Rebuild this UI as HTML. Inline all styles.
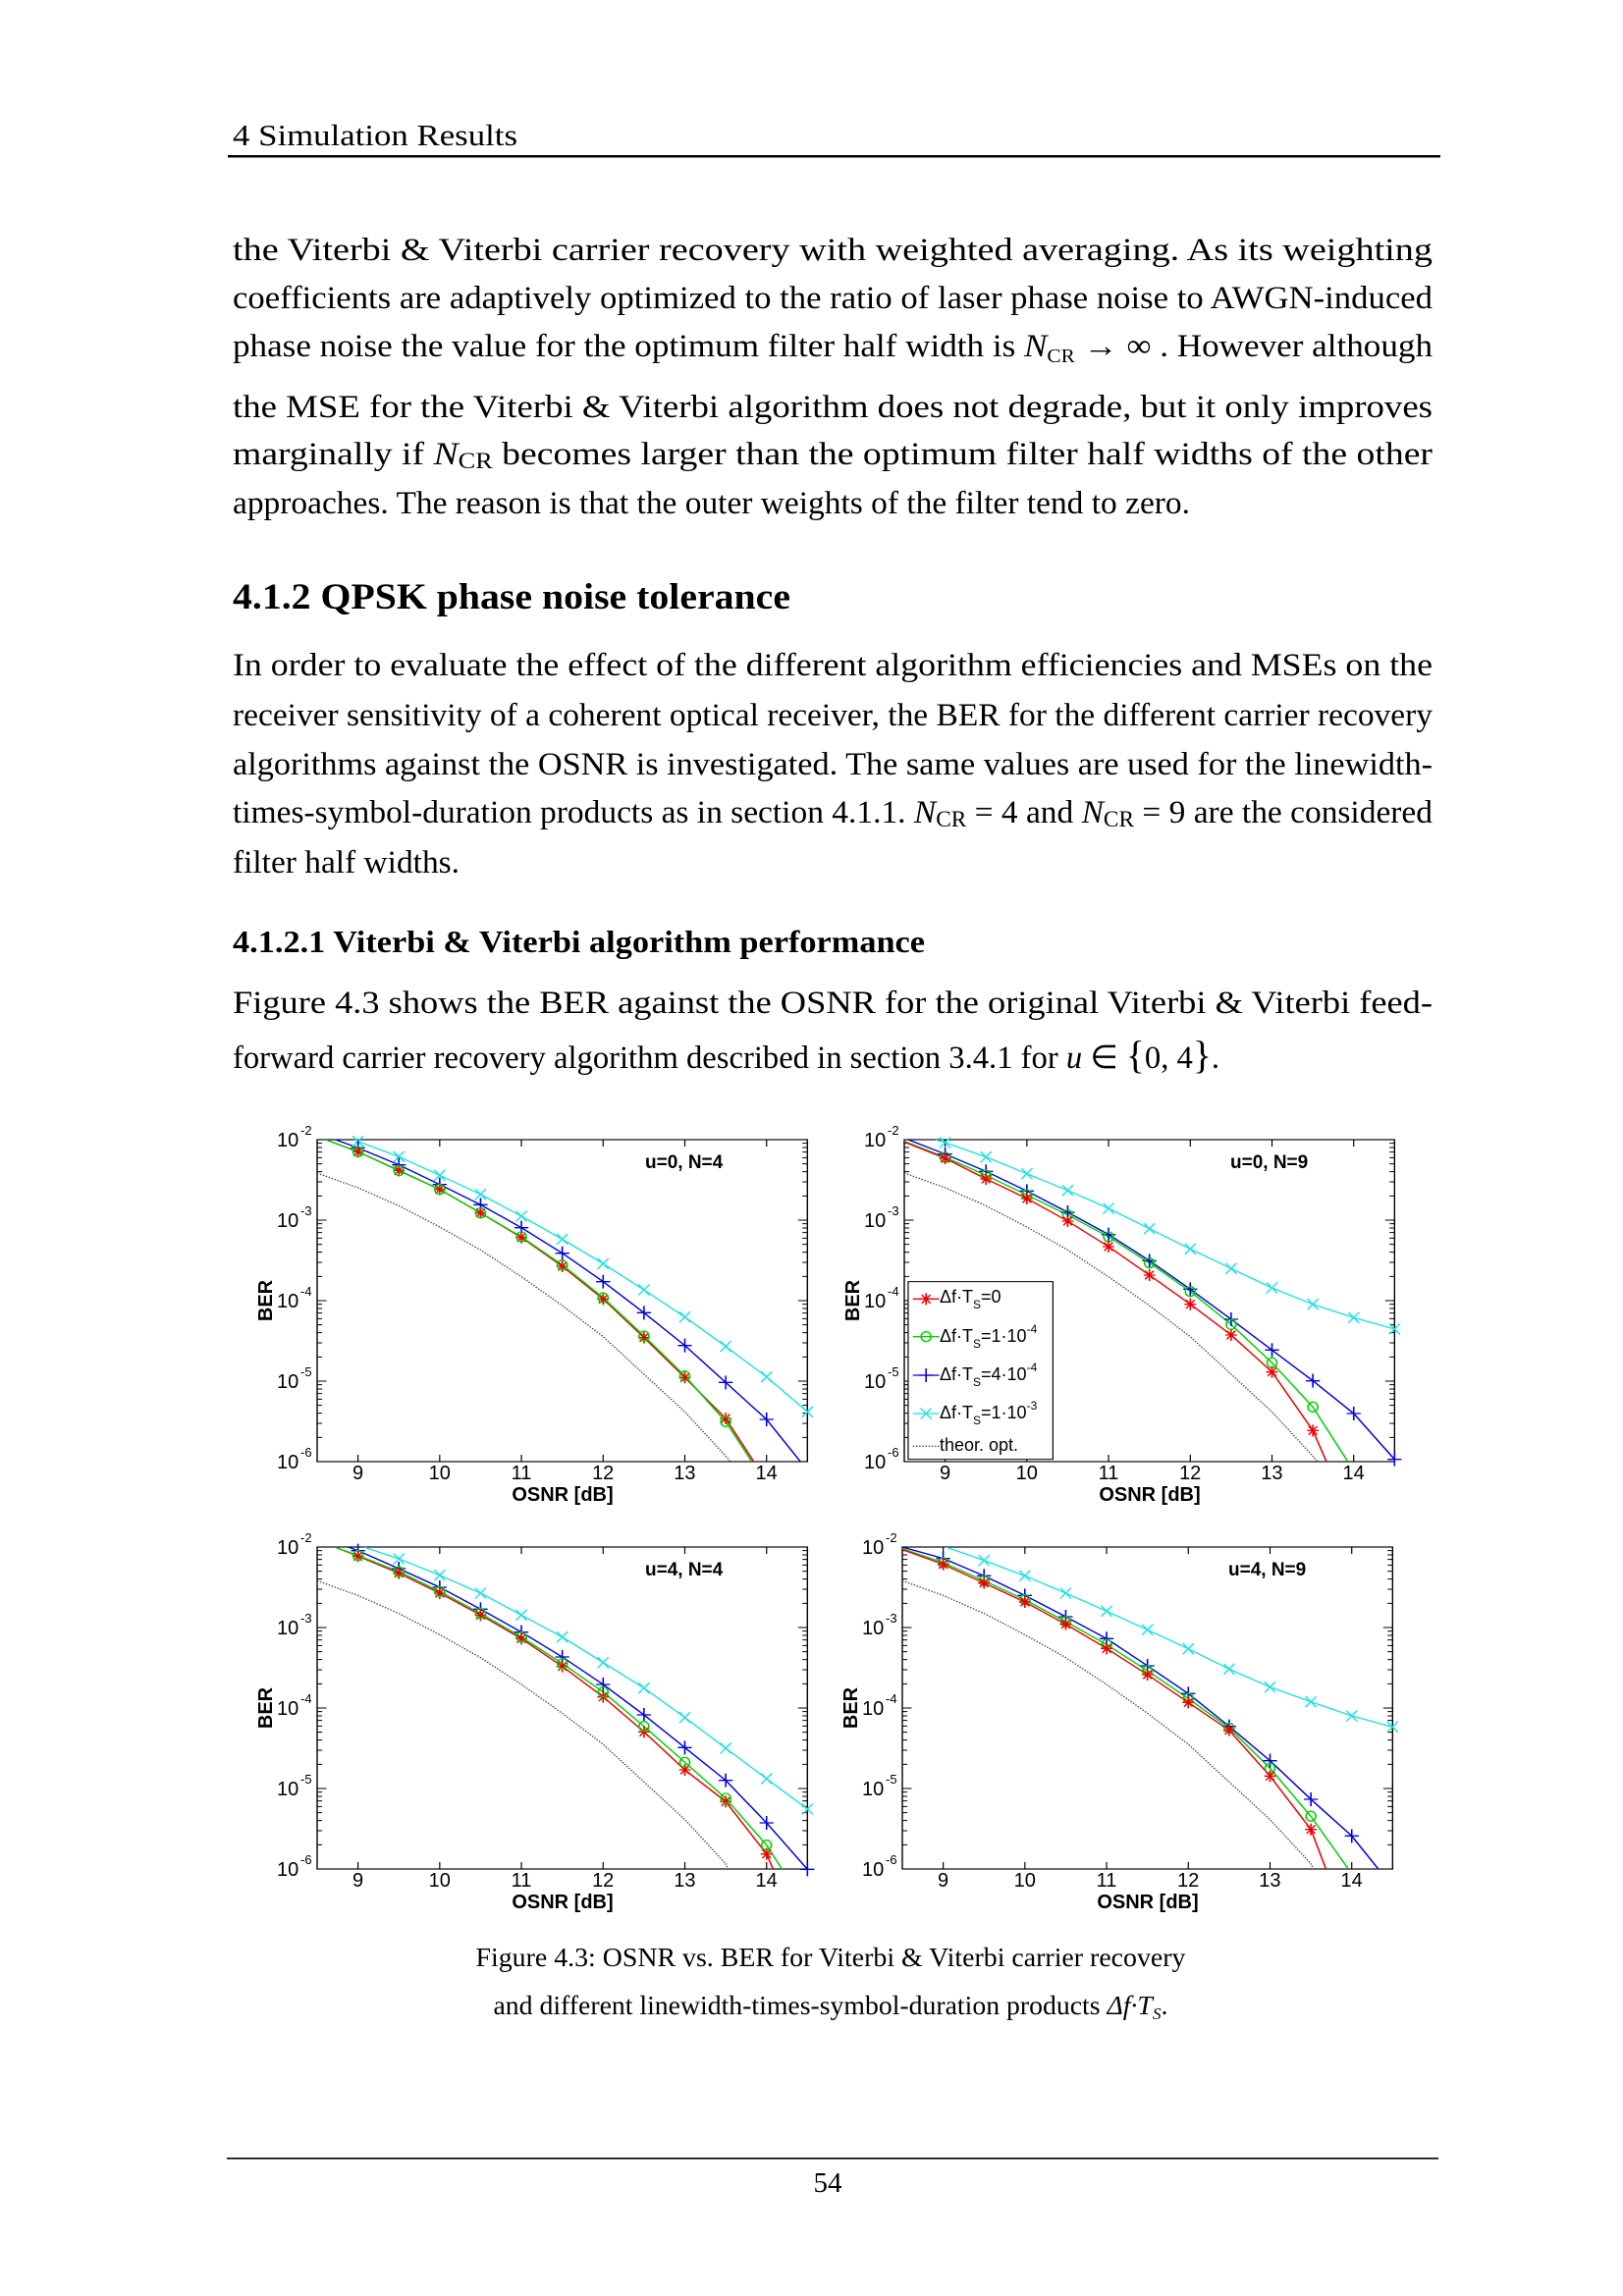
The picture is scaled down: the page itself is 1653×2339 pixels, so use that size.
<!DOCTYPE html>
<html><head><meta charset="utf-8"><style>
html,body{margin:0;padding:0;background:#fff}
svg{display:block}
.t{font-family:"Liberation Serif",serif;fill:#000}
.a{font-family:"Liberation Sans",sans-serif;fill:#000}
</style></head><body>
<svg width="1653" height="2339" viewBox="0 0 1653 2339" xmlns="http://www.w3.org/2000/svg">
<defs>
<marker id="ms" markerUnits="userSpaceOnUse" overflow="visible" markerWidth="1" markerHeight="1"><path d="M-15 0H15M0-18V18M-11-13L11 13M-11 13L11-13" stroke="#ee0000" stroke-width="4" fill="none"/></marker>
<marker id="mo" markerUnits="userSpaceOnUse" overflow="visible" markerWidth="1" markerHeight="1"><ellipse cx="0" cy="0" rx="12.6" ry="15" stroke="#00d000" stroke-width="4" fill="none"/></marker>
<marker id="mp" markerUnits="userSpaceOnUse" overflow="visible" markerWidth="1" markerHeight="1"><path d="M-18 0H18M0-21V21" stroke="#0000dd" stroke-width="4" fill="none"/></marker>
<marker id="mx" markerUnits="userSpaceOnUse" overflow="visible" markerWidth="1" markerHeight="1"><path d="M-14-16.5L14 16.5M-14 16.5L14-16.5" stroke="#20e0e0" stroke-width="4" fill="none"/></marker>
<clipPath id="cb" clipPathUnits="userSpaceOnUse"><rect x="0" y="0" width="1260" height="984"/></clipPath>
<g id="frame">
<rect x="0" y="0" width="1260" height="984" fill="none" stroke="#000" stroke-width="3.5"/>
<path fill="none" stroke="#000" stroke-width="3" d="M105 984v-21M315 984v-21M525 984v-21M735 984v-21M945 984v-21M1155 984v-21M105 0v21M315 0v21M525 0v21M735 0v21M945 0v21M1155 0v21
M0 246h24M0 492h24M0 738h24M1260 246h-24M1260 492h-24M1260 738h-24
M0 172h13M0 129h13M0 98h13M0 74h13M0 55h13M0 38h13M0 24h13M0 11h13
M0 418h13M0 375h13M0 344h13M0 320h13M0 301h13M0 284h13M0 270h13M0 257h13
M0 664h13M0 621h13M0 590h13M0 566h13M0 547h13M0 530h13M0 516h13M0 503h13
M0 910h13M0 867h13M0 836h13M0 812h13M0 793h13M0 776h13M0 762h13M0 749h13
M1260 172h-13M1260 129h-13M1260 98h-13M1260 74h-13M1260 55h-13M1260 38h-13M1260 24h-13M1260 11h-13
M1260 418h-13M1260 375h-13M1260 344h-13M1260 320h-13M1260 301h-13M1260 284h-13M1260 270h-13M1260 257h-13
M1260 664h-13M1260 621h-13M1260 590h-13M1260 566h-13M1260 547h-13M1260 530h-13M1260 516h-13M1260 503h-13
M1260 910h-13M1260 867h-13M1260 836h-13M1260 812h-13M1260 793h-13M1260 776h-13M1260 762h-13M1260 749h-13"/>
</g>
</defs>

<text class="t" x="237" y="148" font-size="31" textLength="290" lengthAdjust="spacingAndGlyphs">4  Simulation Results</text>
<rect x="232" y="158" width="1235" height="2.5" fill="#000"/>

<g class="t" font-size="33">
<text x="237" y="265" textLength="1222" lengthAdjust="spacingAndGlyphs">the Viterbi &amp; Viterbi carrier recovery with weighted averaging. As its weighting</text>
<text x="237" y="314" textLength="1222" lengthAdjust="spacingAndGlyphs">coefficients are adaptively optimized to the ratio of laser phase noise to AWGN-induced</text>
<text x="237" y="363" textLength="1222" lengthAdjust="spacingAndGlyphs">phase noise the value for the optimum filter half width is <tspan font-style="italic">N</tspan><tspan font-size="20" dy="6">CR</tspan><tspan dy="-6"> → ∞ . However although</tspan></text>
<text x="237" y="425" textLength="1222" lengthAdjust="spacingAndGlyphs">the MSE for the Viterbi &amp; Viterbi algorithm does not degrade, but it only improves</text>
<text x="237" y="473" textLength="1222" lengthAdjust="spacingAndGlyphs">marginally if <tspan font-style="italic">N</tspan><tspan font-size="23" dy="4">CR</tspan><tspan dy="-4"> becomes larger than the optimum filter half widths of the other</tspan></text>
<text x="237" y="523" textLength="975" lengthAdjust="spacingAndGlyphs">approaches. The reason is that the outer weights of the filter tend to zero.</text>
</g>

<text class="t" x="237" y="620" font-size="37" font-weight="bold" textLength="568" lengthAdjust="spacingAndGlyphs">4.1.2  QPSK phase noise tolerance</text>

<g class="t" font-size="33">
<text x="237" y="688" textLength="1222" lengthAdjust="spacingAndGlyphs">In order to evaluate the effect of the different algorithm efficiencies and MSEs on the</text>
<text x="237" y="739" textLength="1222" lengthAdjust="spacingAndGlyphs">receiver sensitivity of a coherent optical receiver, the BER for the different carrier recovery</text>
<text x="237" y="789" textLength="1222" lengthAdjust="spacingAndGlyphs">algorithms against the OSNR is investigated. The same values are used for the linewidth-</text>
<text x="237" y="838" textLength="1222" lengthAdjust="spacingAndGlyphs">times-symbol-duration products as in section 4.1.1. <tspan font-style="italic">N</tspan><tspan font-size="23" dy="4">CR</tspan><tspan dy="-4"> = 4 and </tspan><tspan font-style="italic">N</tspan><tspan font-size="23" dy="4">CR</tspan><tspan dy="-4"> = 9 are the considered</tspan></text>
<text x="237" y="889" textLength="231" lengthAdjust="spacingAndGlyphs">filter half widths.</text>
</g>

<text class="t" x="237" y="970" font-size="32" font-weight="bold" textLength="705" lengthAdjust="spacingAndGlyphs">4.1.2.1  Viterbi &amp; Viterbi algorithm performance</text>

<g class="t" font-size="33">
<text x="237" y="1032" textLength="1222" lengthAdjust="spacingAndGlyphs">Figure 4.3 shows the BER against the OSNR for the original Viterbi &amp; Viterbi feed-</text>
<text x="237" y="1088" textLength="1005" lengthAdjust="spacingAndGlyphs">forward carrier recovery algorithm described in section 3.4.1 for <tspan font-style="italic">u</tspan> ∈ <tspan font-size="40">{</tspan>0, 4<tspan font-size="40">}</tspan>.</text>
</g>

<!-- ============ PLOT 1 ============ -->
<g transform="translate(323,1161)">
<g class="a" font-size="20">
<text x="-41" y="7">10</text><text x="-41" y="89">10</text><text x="-41" y="171">10</text><text x="-41" y="253">10</text><text x="-41" y="335">10</text>
<g font-size="13"><text x="-17" y="-5">-2</text><text x="-17" y="77">-3</text><text x="-17" y="159">-4</text><text x="-17" y="241">-5</text><text x="-17" y="323">-6</text></g>
<g text-anchor="middle"><text x="41.6" y="346">9</text><text x="124.8" y="346">10</text><text x="208" y="346">11</text><text x="291.2" y="346">12</text><text x="374.4" y="346">13</text><text x="457.6" y="346">14</text></g>
<text x="250" y="368" text-anchor="middle" font-weight="bold">OSNR [dB]</text>
<text transform="translate(-46,164) rotate(-90)" text-anchor="middle" font-weight="bold">BER</text>
<text x="334" y="29" font-weight="bold" font-size="19">u=0, N=4</text>
</g>
<g transform="scale(0.3963,0.33333)">
<use href="#frame"/>
<g fill="none" stroke-width="4" clip-path="url(#cb)">
<polyline stroke="#555" stroke-dasharray="4 4" points="0,102 105,147 210,202 315,267 420,337 525,419 630,507 735,602 840,717 945,832 1050,967 1062,984"/>
<polyline stroke="#20e0e0" points="95,0 105,5 210,52 315,109 420,167 525,234 630,304 735,379 840,459 945,542 1050,632 1155,725 1260,832"/>
<polyline stroke="#0000dd" points="47,0 105,25 210,77 315,137 420,199 525,269 630,347 735,434 840,529 945,629 1050,742 1155,855 1242,984"/>
<polyline stroke="#ee0000" points="22,0 105,37 210,94 315,152 420,224 525,299 630,387 735,487 840,605 945,727 1050,852 1122,984"/>
<polyline stroke="#00d000" points="22,0 105,37 210,95 315,152 420,224 525,297 630,383 735,483 840,600 945,722 1050,862 1117,984"/>
</g>
<g fill="none" stroke="none">
<polyline marker-start="url(#mx)" marker-mid="url(#mx)" marker-end="url(#mx)" points="105,5 210,52 315,109 420,167 525,234 630,304 735,379 840,459 945,542 1050,632 1155,725 1260,832"/>
<polyline marker-start="url(#mp)" marker-mid="url(#mp)" marker-end="url(#mp)" points="105,25 210,77 315,137 420,199 525,269 630,347 735,434 840,529 945,629 1050,742 1155,855"/>
<polyline marker-start="url(#ms)" marker-mid="url(#ms)" marker-end="url(#ms)" points="105,37 210,94 315,152 420,224 525,299 630,387 735,487 840,605 945,727 1050,852"/>
<polyline marker-start="url(#mo)" marker-mid="url(#mo)" marker-end="url(#mo)" points="105,37 210,95 315,152 420,224 525,297 630,383 735,483 840,600 945,722 1050,862"/>
</g>
</g>
</g>

<!-- ============ PLOT 2 ============ -->
<g transform="translate(921,1161)">
<g class="a" font-size="20">
<text x="-41" y="7">10</text><text x="-41" y="89">10</text><text x="-41" y="171">10</text><text x="-41" y="253">10</text><text x="-41" y="335">10</text>
<g font-size="13"><text x="-17" y="-5">-2</text><text x="-17" y="77">-3</text><text x="-17" y="159">-4</text><text x="-17" y="241">-5</text><text x="-17" y="323">-6</text></g>
<g text-anchor="middle"><text x="41.6" y="346">9</text><text x="124.8" y="346">10</text><text x="208" y="346">11</text><text x="291.2" y="346">12</text><text x="374.4" y="346">13</text><text x="457.6" y="346">14</text></g>
<text x="250" y="368" text-anchor="middle" font-weight="bold">OSNR [dB]</text>
<text transform="translate(-46,164) rotate(-90)" text-anchor="middle" font-weight="bold">BER</text>
<text x="332" y="29" font-weight="bold" font-size="19">u=0, N=9</text>
</g>
<g transform="scale(0.3963,0.33333)">
<use href="#frame"/>
<g fill="none" stroke-width="4" clip-path="url(#cb)">
<polyline stroke="#555" stroke-dasharray="4 4" points="0,102 105,147 210,202 315,267 420,337 525,419 630,507 735,602 840,717 945,832 1050,967 1062,984"/>
<polyline stroke="#20e0e0" points="80,0 105,9 210,53 315,104 420,155 525,210 630,272 735,334 840,394 945,453 1050,503 1155,544 1260,579"/>
<polyline stroke="#0000dd" points="10,0 105,44 210,97 315,157 420,222 525,290 630,370 735,457 840,549 945,643 1050,737 1155,837 1260,977"/>
<polyline stroke="#00d000" points="0,5 105,54 210,109 315,169 420,230 525,297 630,377 735,464 840,565 945,682 1050,817 1140,984"/>
<polyline stroke="#ee0000" points="0,7 105,57 210,120 315,180 420,249 525,327 630,414 735,503 840,597 945,710 1050,889 1085,984"/>
</g>
<g fill="none" stroke="none">
<polyline marker-start="url(#mx)" marker-mid="url(#mx)" marker-end="url(#mx)" points="105,9 210,53 315,104 420,155 525,210 630,272 735,334 840,394 945,453 1050,503 1155,544 1260,579"/>
<polyline marker-start="url(#mp)" marker-mid="url(#mp)" marker-end="url(#mp)" points="105,44 210,97 315,157 420,222 525,290 630,370 735,457 840,549 945,643 1050,737 1155,837 1260,977"/>
<polyline marker-start="url(#mo)" marker-mid="url(#mo)" marker-end="url(#mo)" points="105,54 210,109 315,169 420,230 525,297 630,377 735,464 840,565 945,682 1050,817"/>
<polyline marker-start="url(#ms)" marker-mid="url(#ms)" marker-end="url(#ms)" points="105,57 210,120 315,180 420,249 525,327 630,414 735,503 840,597 945,710 1050,889"/>
</g>
<rect x="10" y="434" width="372" height="543" fill="#fff" stroke="#000" stroke-width="3"/>
<g fill="none" stroke-width="4">
<polyline stroke="#ee0000" marker-mid="url(#ms)" points="22,487 56,487 90,487"/>
<polyline stroke="#00d000" marker-mid="url(#mo)" points="22,602 56,602 90,602"/>
<polyline stroke="#0000dd" marker-mid="url(#mp)" points="22,720 56,720 90,720"/>
<polyline stroke="#20e0e0" marker-mid="url(#mx)" points="22,837 56,837 90,837"/>
<polyline stroke="#555" stroke-dasharray="4 4" points="22,937 90,937"/>
</g>
</g>
<g class="a" font-size="18">
<text x="36" y="166">Δf·T<tspan font-size="12" dy="6">S</tspan><tspan dy="-6">=0</tspan></text>
<text x="36" y="206">Δf·T<tspan font-size="12" dy="6">S</tspan><tspan dy="-6">=1·10</tspan><tspan font-size="12" dy="-9">-4</tspan></text>
<text x="36" y="245">Δf·T<tspan font-size="12" dy="6">S</tspan><tspan dy="-6">=4·10</tspan><tspan font-size="12" dy="-9">-4</tspan></text>
<text x="36" y="284">Δf·T<tspan font-size="12" dy="6">S</tspan><tspan dy="-6">=1·10</tspan><tspan font-size="12" dy="-9">-3</tspan></text>
<text x="36" y="317">theor. opt.</text>
</g>
</g>

<!-- ============ PLOT 3 ============ -->
<g transform="translate(323,1576)">
<g class="a" font-size="20">
<text x="-41" y="7">10</text><text x="-41" y="89">10</text><text x="-41" y="171">10</text><text x="-41" y="253">10</text><text x="-41" y="335">10</text>
<g font-size="13"><text x="-17" y="-5">-2</text><text x="-17" y="77">-3</text><text x="-17" y="159">-4</text><text x="-17" y="241">-5</text><text x="-17" y="323">-6</text></g>
<g text-anchor="middle"><text x="41.6" y="346">9</text><text x="124.8" y="346">10</text><text x="208" y="346">11</text><text x="291.2" y="346">12</text><text x="374.4" y="346">13</text><text x="457.6" y="346">14</text></g>
<text x="250" y="368" text-anchor="middle" font-weight="bold">OSNR [dB]</text>
<text transform="translate(-46,164) rotate(-90)" text-anchor="middle" font-weight="bold">BER</text>
<text x="334" y="29" font-weight="bold" font-size="19">u=4, N=4</text>
</g>
<g transform="scale(0.3963,0.33333)">
<use href="#frame"/>
<g fill="none" stroke-width="4" clip-path="url(#cb)">
<polyline stroke="#555" stroke-dasharray="4 4" points="0,103 105,148 210,203 315,268 420,338 525,420 630,508 735,603 840,718 945,833 1050,968 1057,985"/>
<polyline stroke="#20e0e0" points="120,0 210,36 315,86 420,141 525,208 630,275 735,353 840,431 945,521 1050,615 1155,708 1260,801"/>
<polyline stroke="#0000dd" points="80,0 105,11 210,66 315,123 420,190 525,260 630,336 735,420 840,513 945,613 1050,713 1155,843 1260,985"/>
<polyline stroke="#ee0000" points="45,0 105,28 210,80 315,141 420,208 525,280 630,365 735,458 840,565 945,681 1050,778 1155,938 1172,985"/>
<polyline stroke="#00d000" points="45,0 105,26 210,75 315,136 420,203 525,275 630,356 735,443 840,548 945,658 1050,768 1155,911 1195,985"/>
</g>
<g fill="none" stroke="none">
<polyline marker-start="url(#mx)" marker-mid="url(#mx)" marker-end="url(#mx)" points="210,36 315,86 420,141 525,208 630,275 735,353 840,431 945,521 1050,615 1155,708 1260,801"/>
<polyline marker-start="url(#mp)" marker-mid="url(#mp)" marker-end="url(#mp)" points="105,11 210,66 315,123 420,190 525,260 630,336 735,420 840,513 945,613 1050,713 1155,843 1260,985"/>
<polyline marker-start="url(#ms)" marker-mid="url(#ms)" marker-end="url(#ms)" points="105,28 210,80 315,141 420,208 525,280 630,365 735,458 840,565 945,681 1050,778 1155,938"/>
<polyline marker-start="url(#mo)" marker-mid="url(#mo)" marker-end="url(#mo)" points="105,26 210,75 315,136 420,203 525,275 630,356 735,443 840,548 945,658 1050,768 1155,911"/>
</g>
</g>
</g>

<!-- ============ PLOT 4 ============ -->
<g transform="translate(919,1576)">
<g class="a" font-size="20">
<text x="-41" y="7">10</text><text x="-41" y="89">10</text><text x="-41" y="171">10</text><text x="-41" y="253">10</text><text x="-41" y="335">10</text>
<g font-size="13"><text x="-17" y="-5">-2</text><text x="-17" y="77">-3</text><text x="-17" y="159">-4</text><text x="-17" y="241">-5</text><text x="-17" y="323">-6</text></g>
<g text-anchor="middle"><text x="41.6" y="346">9</text><text x="124.8" y="346">10</text><text x="208" y="346">11</text><text x="291.2" y="346">12</text><text x="374.4" y="346">13</text><text x="457.6" y="346">14</text></g>
<text x="250" y="368" text-anchor="middle" font-weight="bold">OSNR [dB]</text>
<text transform="translate(-46,164) rotate(-90)" text-anchor="middle" font-weight="bold">BER</text>
<text x="332" y="29" font-weight="bold" font-size="19">u=4, N=9</text>
</g>
<g transform="scale(0.3963,0.33333)">
<use href="#frame"/>
<g fill="none" stroke-width="4" clip-path="url(#cb)">
<polyline stroke="#555" stroke-dasharray="4 4" points="0,103 105,148 210,203 315,268 420,338 525,420 630,508 735,603 840,718 945,833 1050,968 1057,985"/>
<polyline stroke="#20e0e0" points="112,0 210,41 315,88 420,141 525,196 630,253 735,311 840,373 945,428 1050,473 1155,516 1260,550"/>
<polyline stroke="#0000dd" points="0,0 105,35 210,88 315,148 420,213 525,280 630,363 735,448 840,548 945,653 1050,771 1155,883 1224,985"/>
<polyline stroke="#00d000" points="0,5 105,48 210,103 315,161 420,228 525,298 630,378 735,463 840,553 945,676 1050,823 1147,985"/>
<polyline stroke="#ee0000" points="0,8 105,53 210,110 315,168 420,236 525,310 630,390 735,475 840,560 945,700 1050,863 1089,985"/>
</g>
<g fill="none" stroke="none">
<polyline marker-start="url(#mx)" marker-mid="url(#mx)" marker-end="url(#mx)" points="210,41 315,88 420,141 525,196 630,253 735,311 840,373 945,428 1050,473 1155,516 1260,550"/>
<polyline marker-start="url(#mp)" marker-mid="url(#mp)" marker-end="url(#mp)" points="105,35 210,88 315,148 420,213 525,280 630,363 735,448 840,548 945,653 1050,771 1155,883"/>
<polyline marker-start="url(#mo)" marker-mid="url(#mo)" marker-end="url(#mo)" points="105,48 210,103 315,161 420,228 525,298 630,378 735,463 840,553 945,676 1050,823"/>
<polyline marker-start="url(#ms)" marker-mid="url(#ms)" marker-end="url(#ms)" points="105,53 210,110 315,168 420,236 525,310 630,390 735,475 840,560 945,700 1050,863"/>
</g>
</g>
</g>

<g class="t" font-size="27" text-anchor="middle">
<text x="846" y="2003" textLength="723" lengthAdjust="spacingAndGlyphs">Figure 4.3: OSNR vs. BER for Viterbi &amp; Viterbi carrier recovery</text>
<text x="846" y="2052" textLength="687" lengthAdjust="spacingAndGlyphs">and different linewidth-times-symbol-duration products <tspan font-style="italic">Δf·T</tspan><tspan font-style="italic" font-size="17" dy="5">S</tspan><tspan dy="-5">.</tspan></text>
</g>

<rect x="231" y="2198" width="1234" height="1.6" fill="#000"/>
<text class="t" x="843" y="2233" font-size="29" text-anchor="middle">54</text>
</svg>
</body></html>
